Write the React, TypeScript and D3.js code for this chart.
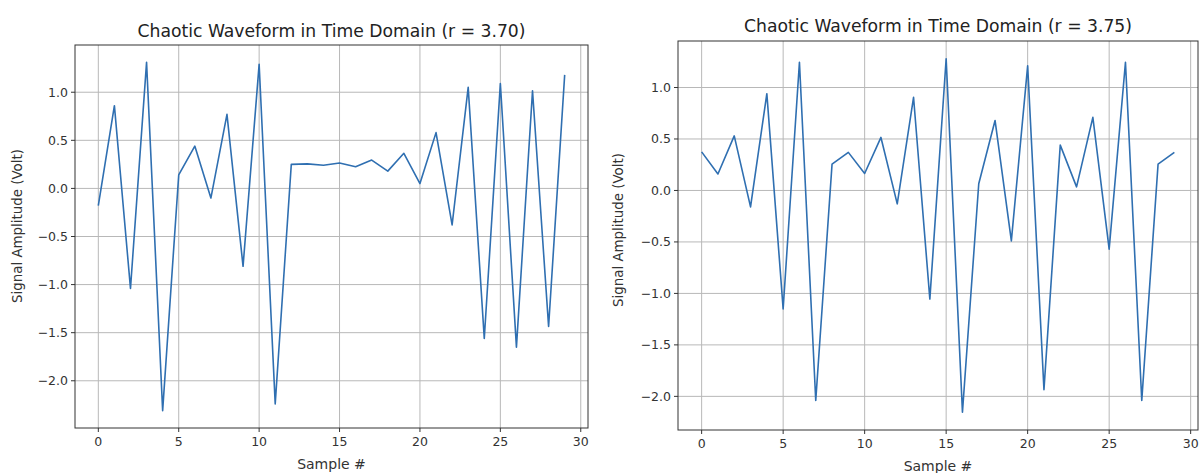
import React from "react";
import * as d3 from "d3";

const samplesA: number[] = [-0.18, 0.86, -1.04, 1.31, -2.31, 0.14, 0.44, -0.1, 0.77, -0.81, 1.29, -2.24, 0.25, 0.255, 0.24, 0.265, 0.225, 0.295, 0.18, 0.365, 0.05, 0.58, -0.38, 1.05, -1.56, 1.09, -1.65, 1.015, -1.435, 1.18];
const samplesB: number[] = [0.375, 0.16, 0.53, -0.16, 0.94, -1.15, 1.245, -2.04, 0.255, 0.37, 0.165, 0.515, -0.13, 0.905, -1.055, 1.28, -2.155, 0.065, 0.68, -0.49, 1.21, -1.935, 0.44, 0.035, 0.71, -0.57, 1.245, -2.04, 0.255, 0.37];
const xTicks = [0, 5, 10, 15, 20, 25, 30];
const yTicks = [-2.0, -1.5, -1.0, -0.5, 0.0, 0.5, 1.0];
const titles = ["Chaotic Waveform in Time Domain (r = 3.70)", "Chaotic Waveform in Time Domain (r = 3.75)"];
const xLabel = "Sample #";
const yLabel = "Signal Amplitude (Volt)";

const FONT = "DejaVu Sans, sans-serif";

type PanelProps = {
  data: number[];
  title: string;
  box: { l: number; r: number; t: number; b: number };
  titleY: number;
  yLabelX: number;
  yLabelY: number;
  xLabelY: number;
};

function fmt(v: number) {
  const s = v.toFixed(1);
  return v < 0 ? "\u2212" + s.slice(1) : s;
}

function Panel({ data, title, box, titleY, yLabelX, yLabelY, xLabelY }: PanelProps) {
  const n = data.length;
  const xSpan = n - 1;
  const x = d3.scaleLinear().domain([-0.05 * xSpan, xSpan + 0.05 * xSpan]).range([box.l, box.r]);
  const mn = d3.min(data)!;
  const mx = d3.max(data)!;
  const pad = (mx - mn) * 0.05;
  const y = d3.scaleLinear().domain([mn - pad, mx + pad]).range([box.b, box.t]);
  const line = d3.line<number>().x((_, i) => x(i)).y((d) => y(d));
  const cx = (box.l + box.r) / 2;
  return (
    <g>
      <rect x={box.l} y={box.t} width={box.r - box.l} height={box.b - box.t} fill="#fff" />
      {xTicks.map((t) => (
        <line key={"gx" + t} x1={x(t)} x2={x(t)} y1={box.t} y2={box.b} stroke="#b8b8b8" strokeWidth={1} />
      ))}
      {yTicks.map((t) => (
        <line key={"gy" + t} x1={box.l} x2={box.r} y1={y(t)} y2={y(t)} stroke="#b8b8b8" strokeWidth={1} />
      ))}
      <path d={line(data)!} fill="none" stroke="#2f6fb1" strokeWidth={1.6} strokeLinejoin="round" />
      <rect x={box.l} y={box.t} width={box.r - box.l} height={box.b - box.t} fill="none" stroke="#333" strokeWidth={1} />
      {xTicks.map((t) => (
        <g key={"tx" + t}>
          <line x1={x(t)} x2={x(t)} y1={box.b} y2={box.b + 4} stroke="#333" />
          <text x={x(t)} y={box.b + 18} textAnchor="middle" fontSize={12.5} fontFamily={FONT} fill="#333">
            {t}
          </text>
        </g>
      ))}
      {yTicks.map((t) => (
        <g key={"ty" + t}>
          <line x1={box.l - 4} x2={box.l} y1={y(t)} y2={y(t)} stroke="#333" />
          <text x={box.l - 7} y={y(t)} dy="0.35em" textAnchor="end" fontSize={12.5} fontFamily={FONT} fill="#333">
            {fmt(t)}
          </text>
        </g>
      ))}
      <text x={cx} y={titleY} textAnchor="middle" fontSize={17.2} fontFamily={FONT} fill="#222">
        {title}
      </text>
      <text x={cx} y={xLabelY} textAnchor="middle" fontSize={14} fontFamily={FONT} fill="#333">
        {xLabel}
      </text>
      <text
        transform={`translate(${yLabelX},${yLabelY}) rotate(-90)`}
        textAnchor="middle"
        dy="0.35em"
        fontSize={13.4}
        fontFamily={FONT}
        fill="#333"
      >
        {yLabel}
      </text>
    </g>
  );
}

export default function App() {
  return (
    <svg width={1204} height={473} style={{ position: "absolute", left: 0, top: 0, background: "#fff" }}>
      <rect width={1204} height={473} fill="#fff" />
      <Panel data={samplesA} title={titles[0]} box={{ l: 75, r: 588, t: 45, b: 428 }} titleY={37} yLabelX={17} yLabelY={226} xLabelY={469} />
      <Panel data={samplesB} title={titles[1]} box={{ l: 678, r: 1198, t: 41, b: 430 }} titleY={31.5} yLabelX={618} yLabelY={230} xLabelY={471} />
    </svg>
  );
}
